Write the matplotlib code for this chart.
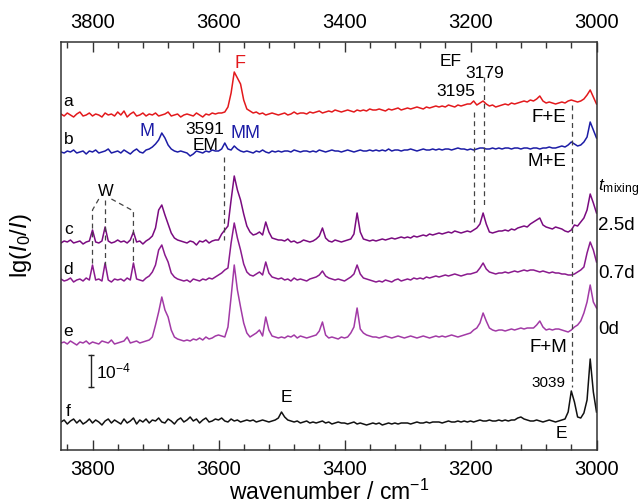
import numpy as np
import matplotlib
matplotlib.use("Agg")
import matplotlib.pyplot as plt

plt.rcParams['font.family'] = ['Liberation Sans', 'DejaVu Sans']
plt.rcParams['mathtext.fontset'] = 'custom'
plt.rcParams['mathtext.rm'] = 'Liberation Sans'
plt.rcParams['mathtext.it'] = 'Liberation Sans:italic'
plt.rcParams['mathtext.default'] = 'regular'

# ---------------- data ----------------
# wavenumber grid (cm^-1), 3850 -> 3000 in 5 cm^-1 steps
wavenumber = np.arange(3850, 2999, -5)

# intensity unit: 32 units == 1e-4 (the scale bar)
UNITS_PER_1E4 = 32

trace_labels = ['a', 'b', 'c', 'd', 'e', 'f']
trace_offsets = [335, 298, 208, 170, 107, 28]
trace_colors = ['#e3191c', '#1c1ca6', '#7a0b80', '#8a1a8e', '#a23aa6', '#111111']

spec_a = [
    1, -1, 2, 0, -2, 1, 3, -1, 0, 2,
    -1, 1, 0, -2, 2, 0, 1, -1, 3, 0,
    4, -2, 1, 3, -1, 0, 2, -1, 1, 0,
    2, -1, 0, 1, 3, -1, 0, 1, -2, 0,
    1, 0, -1, 2, 0, -2, 1, 0, 2, 1,
    2, 2, 3, 8, 22, 43, 37, 31, 15, 6,
    4, 2, 3, 1, 2, 0, 1, 2, 1, 0,
    1, 2, 0, 1, 3, 1, 2, 2, 1, 3,
    2, 3, 4, 2, 3, 4, 3, 5, 4, 3,
    4, 5, 4, 3, 5, 4, 5, 4, 6, 5,
    5, 6, 5, 4, 6, 5, 6, 7, 5, 6,
    7, 6, 7, 8, 7, 6, 8, 7, 8, 9,
    8, 9, 8, 10, 9, 8, 10, 9, 10, 11,
    11, 14, 10, 12, 14, 11, 9, 10, 8, 9,
    10, 11, 10, 12, 11, 12, 13, 14, 13, 15,
    14, 16, 19, 14, 12, 13, 12, 11, 12, 13,
    12, 14, 15, 14, 13, 14, 16, 20, 25, 18,
    11]

spec_b = [
    0, -1, 1, 0, 2, -1, 0, 1, -2, 1,
    0, 2, -1, 0, 1, 3, -1, 0, 1, -1,
    2, 0, -2, 1, 3, 0, -1, 2, 3, 5,
    8, 12, 19, 14, 7, 3, 1, 0, 1, 0,
    -1, -4, -2, 1, 0, -1, 1, 0, 2, 1,
    1, 3, 9, 3, 2, 6, 3, 1, 0, 1,
    0, -1, 1, 0, 2, 0, -1, 1, 0, 1,
    0, 1, 1, 0, 2, 1, 0, 1, 1, 0,
    1, 0, 2, 1, 0, 1, 2, 1, 1, 0,
    1, 2, 1, 0, 1, 2, 1, 1, 2, 1,
    2, 1, 2, 1, 3, 1, 2, 2, 1, 2,
    2, 3, 2, 1, 2, 3, 2, 2, 3, 2,
    3, 2, 3, 3, 2, 3, 4, 3, 3, 2,
    3, 2, 3, 4, 4, 3, 3, 4, 3, 4,
    3, 4, 4, 3, 4, 4, 3, 4, 4, 3,
    4, 4, 3, 4, 4, 5, 4, 4, 5, 6,
    5, 7, 10, 8, 6, 7, 10, 15, 30, 22,
    14]

spec_c = [
    -1, 1, 0, 2, -1, 0, 1, -2, 0, 1,
    12, 0, -1, 1, 15, 1, -1, 0, 2, 0,
    1, -1, 2, 10, 0, 1, -2, 1, 3, 6,
    14, 32, 37, 27, 18, 9, 4, 2, 1, 0,
    -1, 1, 0, -3, 1, 0, 2, -1, 1, 2,
    2, 8, 12, 16, 42, 66, 52, 42, 28, 16,
    10, 7, 8, 10, 7, 20, 10, 4, 3, 2,
    2, 1, 3, 0, 1, -1, 0, 2, 1, 0,
    1, 3, 6, 14, 4, 1, 0, 2, 1, 0,
    1, 2, 3, 8, 29, 10, 3, 2, 1, 2,
    1, 2, 3, 2, 3, 4, 3, 4, 5, 4,
    5, 4, 6, 5, 6, 7, 6, 8, 7, 8,
    9, 8, 9, 10, 9, 11, 10, 9, 10, 11,
    10, 12, 14, 18, 29, 18, 10, 9, 10, 11,
    11, 12, 11, 13, 12, 14, 15, 16, 15, 18,
    20, 22, 24, 17, 15, 14, 13, 15, 14, 13,
    11, 10, 12, 17, 16, 20, 24, 32, 48, 39,
    29]

spec_d = [
    1, -1, 0, 2, -2, 0, 1, -1, 2, 0,
    15, 0, 1, -1, 17, 0, -2, 1, 0, 1,
    -1, 2, 0, 17, 1, 0, -1, 2, 4, 8,
    15, 30, 35, 25, 18, 7, 3, 1, 0, -1,
    0, -2, 1, 0, -1, 1, 0, 2, 1, 3,
    5, 7, 10, 12, 37, 57, 42, 30, 16, 8,
    5, 4, 6, 8, 5, 18, 7, 3, 2, 1,
    2, 0, 1, -1, 2, 0, 1, 0, -1, 1,
    2, 3, 5, 9, 4, 2, 1, 0, 1, 0,
    -1, 1, 3, 6, 15, 6, 2, 1, 0, -1,
    -2, -1, -2, 0, -1, -2, 0, 1, -1, 0,
    1, 0, 2, 1, 2, 1, 3, 2, 3, 4,
    3, 4, 5, 4, 5, 6, 5, 4, 5, 6,
    6, 7, 8, 12, 17, 11, 8, 7, 6, 7,
    7, 8, 7, 8, 9, 8, 9, 10, 9, 10,
    10, 9, 8, 9, 8, 7, 8, 7, 7, 6,
    6, 5, 5, 6, 8, 10, 13, 27, 38, 30,
    18]

spec_e = [
    0, 1, -1, 2, 0, -2, 1, 0, 2, -1,
    1, 0, -1, 2, 1, 0, 3, -1, 0, 1,
    2, 6, 0, 1, 2, 0, 1, 2, 3, 6,
    18, 31, 46, 33, 26, 13, 6, 4, 3, 2,
    3, 2, 4, 3, 5, 3, 6, 4, 5, 7,
    8, 7, 6, 16, 46, 78, 53, 36, 20, 10,
    6, 8, 10, 13, 7, 26, 13, 7, 6, 5,
    6, 5, 7, 6, 8, 5, 7, 6, 5, 6,
    7, 8, 12, 21, 8, 5, 6, 5, 4, 6,
    5, 6, 10, 16, 35, 14, 10, 8, 7, 6,
    6, 5, 6, 7, 6, 5, 6, 7, 6, 5,
    6, 7, 6, 5, 6, 7, 6, 5, 6, 7,
    6, 7, 6, 7, 8, 7, 6, 7, 8, 9,
    10, 13, 15, 20, 30, 22, 15, 13, 12, 13,
    13, 12, 13, 14, 13, 14, 15, 14, 15, 15,
    15, 18, 22, 16, 13, 14, 13, 14, 14, 13,
    12, 11, 13, 16, 18, 22, 30, 41, 58, 41,
    35]

spec_f = [
    0, 2, -2, 1, 3, -1, 2, -2, 0, 3,
    -1, 2, 0, -3, 1, 3, -1, 2, 0, -2,
    3, -1, 1, 4, -2, 2, 0, 3, -1, 2,
    1, 4, 0, -1, 3, 1, -2, 2, 4, 0,
    2, 5, 1, 3, -1, 2, 4, 0, 1, 3,
    2, 4, 1, 0, 3, 1, 2, 0, 1, 2,
    1, 2, 0, 1, 2, 1, 0, 1, 2, 4,
    10, 5, 2, 1, 0, 1, -1, 0, 1, -1,
    0, -1, 0, 1, -1, 0, -2, -1, 0, -1,
    -1, -2, -1, 0, -2, -1, -2, -3, -2, -1,
    -2, -1, -3, -2, -1, -2, -1, -2, -1, -1,
    -1, -2, -1, 0, -1, -1, 0, -1, 0, 0,
    0, -1, 0, 1, 0, 0, 1, 0, 1, 0,
    1, 0, 1, 2, 1, 1, 2, 1, 1, 2,
    1, 2, 1, 2, 2, 4, 5, 3, 2, 1,
    1, 2, 1, 0, 1, 2, 1, 0, 1, 2,
    3, 10, 31, 20, 5, 4, 9, 22, 63, 30,
    10]

spectra = [spec_a, spec_b, spec_c, spec_d, spec_e, spec_f]

mixing_labels = ['2.5d', '0.7d', '0d']

major_ticks = [3800, 3600, 3400, 3200, 3000]

# ---------------- figure ----------------
fig = plt.figure(figsize=(6.41, 5.04), dpi=100)
ax = fig.add_axes([61 / 641, 54 / 504, 535.5 / 641, 408 / 504])
ax.set_xlim(3850, 3000)
ax.set_ylim(0, 408)

for spec, off, col in zip(spectra, trace_offsets, trace_colors):
    ax.plot(wavenumber, np.array(spec) + off, color=col, lw=1.1)

# axes styling
for s in ax.spines.values():
    s.set_color('#333333')
    s.set_linewidth(1.1)
ax.set_yticks([])
ax.set_xticks(major_ticks)
ax.set_xticks(np.arange(3840, 2999, -40), minor=True)
ax.tick_params(axis='x', which='major', direction='in', length=7, width=1.0,
               labelsize=14.5, pad=7, top=True, color='#333333')
ax.tick_params(axis='x', which='minor', direction='in', length=4, width=1.0,
               top=True, color='#333333')
sec = ax.secondary_xaxis('top')
sec.set_xticks(major_ticks)
sec.tick_params(axis='x', which='major', direction='in', length=0, labelsize=14.5, pad=7.5)
sec.spines['top'].set_visible(False)

ax.set_xlabel('wavenumber / cm$^{−1}$', fontsize=16.5, labelpad=1)
ax.set_ylabel(r'lg($\it{I}$$_0$/$\it{I}$)', fontsize=17)
ax.yaxis.set_label_coords(-0.05, 0.5)

# trace letters
letter_y = [348, 310, 220, 181, 118, 39]
for lab, y in zip(trace_labels, letter_y):
    ax.text(3838, y, lab, fontsize=12.5, ha='center', va='center')

dash = dict(color='#444444', lw=0.9, ls=(0, (4, 3)))

# W lines
ax.plot([3790, 3800, 3800], [251, 240, 185], **dash)
ax.plot([3780, 3780], [250, 185], **dash)
ax.plot([3770, 3735, 3735], [251, 239, 185], **dash)
ax.text(3779, 258, 'W', fontsize=12, ha='center', va='center')

# other dashed lines
ax.plot([3591, 3591], [293, 210], **dash)
ax.plot([3195, 3195], [338, 228], **dash)
ax.plot([3179, 3179], [373, 243], **dash)
ax.plot([3039, 3039], [345, 63], **dash)

# labels
ax.text(3566, 386, 'F', color=trace_colors[0], fontsize=13, ha='center', va='center')
ax.text(3713, 318, 'M', color=trace_colors[1], fontsize=13, ha='center', va='center')
ax.text(3557, 316, 'MM', color=trace_colors[1], fontsize=13, ha='center', va='center')
ax.text(3622, 321, '3591', fontsize=12.5, ha='center', va='center')
ax.text(3620, 304, 'EM', fontsize=12.5, ha='center', va='center')
ax.text(3231, 388, 'EF', fontsize=12.5, ha='center', va='center')
ax.text(3223, 359, '3195', fontsize=12.5, ha='center', va='center')
ax.text(3178, 376, '3179', fontsize=12.5, ha='center', va='center')
ax.text(3076, 332, 'F+E', fontsize=13.5, ha='center', va='center')
ax.text(3078, 288, 'M+E', fontsize=13.5, ha='center', va='center')
ax.text(3077, 103, 'F+M', fontsize=13.5, ha='center', va='center')
ax.text(3076, 67, '3039', fontsize=11, ha='center', va='center')
ax.text(3055, 16, 'E', fontsize=12.5, ha='center', va='center')
ax.text(3493, 53, 'E', fontsize=12.5, ha='center', va='center')

# mixing time labels (right of the axes)
ax.text(2998, 262, r'$\it{t}$$_{\rm mixing}$', fontsize=12.5, ha='left', va='center', clip_on=False)
for lab, y in zip(mixing_labels, [224, 177, 120]):
    ax.text(2997, y, lab, fontsize=13.5, ha='left', va='center', clip_on=False)

# scale bar: 1e-4
sb_x, sb_y0 = 3802, 63
ax.plot([sb_x, sb_x], [sb_y0, sb_y0 + UNITS_PER_1E4], color='#222222', lw=1.0)
ax.plot([sb_x, sb_x], [sb_y0, sb_y0 + UNITS_PER_1E4], ls='none', marker='_',
        ms=5, mew=1.0, color='#222222')
ax.text(3795, sb_y0 + UNITS_PER_1E4 / 2, '10$^{−4}$', fontsize=12.5, ha='left', va='center')

fig.savefig('out.png', dpi=100)
